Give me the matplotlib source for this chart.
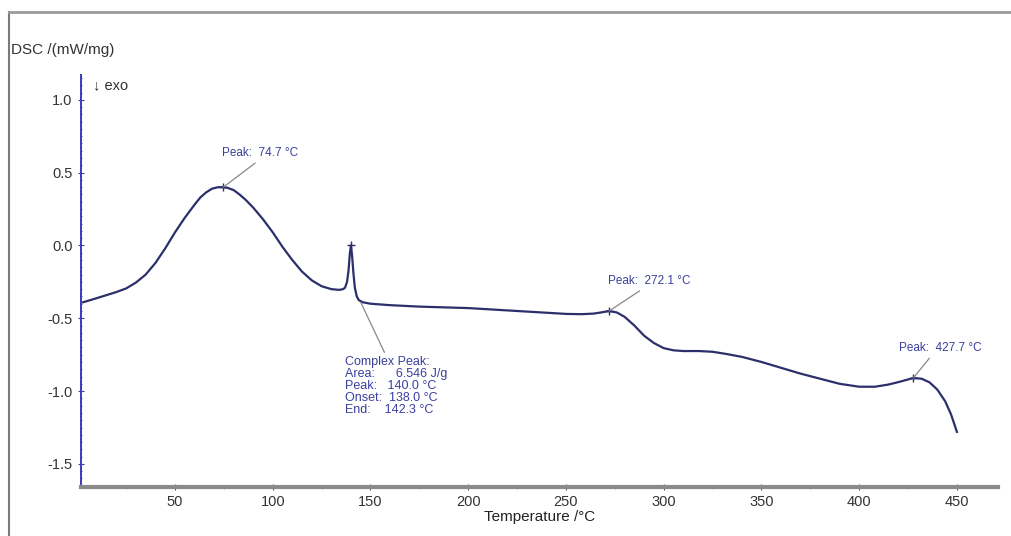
import matplotlib
matplotlib.use("Agg")
import matplotlib.pyplot as plt
from matplotlib.lines import Line2D
from matplotlib.ticker import MultipleLocator

plt.rcParams['font.family'] = ['Liberation Sans', 'DejaVu Sans']

temperature = [3, 8, 14, 20, 25, 30, 35, 40, 45, 50, 55, 60, 63, 66, 69, 72,
               74.7, 77, 80, 83, 86, 90, 95, 100, 105, 110, 115, 120, 125, 130,
               134, 136, 137, 138, 138.8, 139.4, 140, 140.6, 141.2, 142, 143,
               144, 146, 150, 160, 175, 200, 225, 250, 258, 264, 268, 272.1,
               276, 280, 285, 290, 295, 300, 305, 310, 318, 325, 332, 340, 350,
               360, 370, 380, 390, 400, 408, 415, 421, 427.7, 432, 436, 440,
               444, 447, 450]
dsc = [-0.39, -0.37, -0.345, -0.32, -0.295, -0.255, -0.20, -0.12, -0.02, 0.09,
       0.19, 0.28, 0.33, 0.365, 0.39, 0.40, 0.40, 0.395, 0.38, 0.35, 0.315,
       0.26, 0.18, 0.09, -0.01, -0.10, -0.18, -0.24, -0.28, -0.30, -0.305,
       -0.30, -0.29, -0.25, -0.17, -0.06, 0.00, -0.07, -0.18, -0.29, -0.35,
       -0.375, -0.39, -0.40, -0.41, -0.42, -0.43, -0.45, -0.47, -0.472, -0.468,
       -0.46, -0.45, -0.46, -0.49, -0.55, -0.62, -0.67, -0.705, -0.72, -0.725,
       -0.725, -0.73, -0.745, -0.765, -0.80, -0.84, -0.88, -0.915, -0.95,
       -0.97, -0.97, -0.955, -0.935, -0.91, -0.915, -0.94, -0.99, -1.07, -1.16,
       -1.28]

peaks_t = [74.7, 140.0, 272.1, 427.7]
peaks_v = [0.40, 0.00, -0.45, -0.91]

xticks = [50, 100, 150, 200, 250, 300, 350, 400, 450]
yticks = [-1.5, -1.0, -0.5, 0.0, 0.5, 1.0]

line_col = '#2c2f6b'
ann_col = '#3b3f9e'
axis_blue = '#3a3ab8'

fig = plt.figure(figsize=(10.11, 5.36), dpi=100)
ax = fig.add_axes([0.0801, 0.091, 0.907, 0.769])

ax.plot(temperature, dsc, color=line_col, lw=1.6, solid_joinstyle='round')
ax.set_xlim(1.9, 471)
ax.set_ylim(-1.66, 1.17)

ax.spines['top'].set_visible(False)
ax.spines['right'].set_visible(False)
ax.spines['left'].set_color(axis_blue)
ax.spines['left'].set_linewidth(1.4)
ax.spines['bottom'].set_color('#8a8a8a')
ax.spines['bottom'].set_linewidth(3)

ax.set_xticks(xticks)
ax.set_xticklabels([str(t) for t in xticks])
ax.xaxis.set_minor_locator(MultipleLocator(25))
ax.set_yticks(yticks)
ax.set_yticklabels([f"{v:.1f}" for v in yticks])
ax.yaxis.set_minor_locator(MultipleLocator(0.05))
ax.tick_params(axis='x', which='major', length=4, color='#555555', labelsize=10.5,
               labelcolor='#333333', direction='inout')
ax.tick_params(axis='x', which='minor', length=3, color='#777777', direction='inout')
ax.tick_params(axis='y', which='major', length=5, color=axis_blue, labelsize=10.5,
               labelcolor='#333333', direction='inout')
ax.tick_params(axis='y', which='minor', length=2, color=axis_blue, direction='inout')

ax.set_xlabel('Temperature /°C', fontsize=11, color='#222222', labelpad=1)
fig.text(0.011, 0.907, 'DSC /(mW/mg)', fontsize=11, color='#333333', va='center')
fig.text(0.092, 0.842, '↓ exo', fontsize=10.5, color='#333333', va='center')

ax.plot(peaks_t, peaks_v, '+', color=line_col, ms=6, mew=1)

def ann(text, i_t, i_v, dx, dy, rel, va='bottom', fs=8.5):
    ax.annotate(text, xy=(i_t, i_v), xytext=(dx, dy), textcoords='offset points',
                fontsize=fs, color=ann_col, va=va, ha='left', linespacing=1.0,
                arrowprops=dict(arrowstyle='-', color='#888888', lw=0.9,
                                relpos=rel, shrinkA=1, shrinkB=0))

ann(f'Peak:  {peaks_t[0]} °C', peaks_t[0], peaks_v[0], -1, 20, (0.5, 0.0))
ann(f'Peak:  {peaks_t[2]} °C', peaks_t[2], peaks_v[2], -1, 17, (0.45, 0.0))
ann(f'Peak:  {peaks_t[3]} °C', peaks_t[3], peaks_v[3], -10, 17, (0.4, 0.0))
ann('Complex Peak:\nArea:      6.546 J/g\nPeak:   140.0 °C\nOnset:  138.0 °C\nEnd:    142.3 °C',
    145, -0.39, -11, -39, (0.4, 1.0), va='top', fs=9)

fig.add_artist(Line2D([0.009, 0.009], [0.0, 0.978], transform=fig.transFigure,
                      color='#7a7a7a', lw=1.5))
fig.add_artist(Line2D([0.009, 1.0], [0.978, 0.978], transform=fig.transFigure,
                      color='#9a9a9a', lw=2.0))

fig.savefig('out.png', dpi=100)
